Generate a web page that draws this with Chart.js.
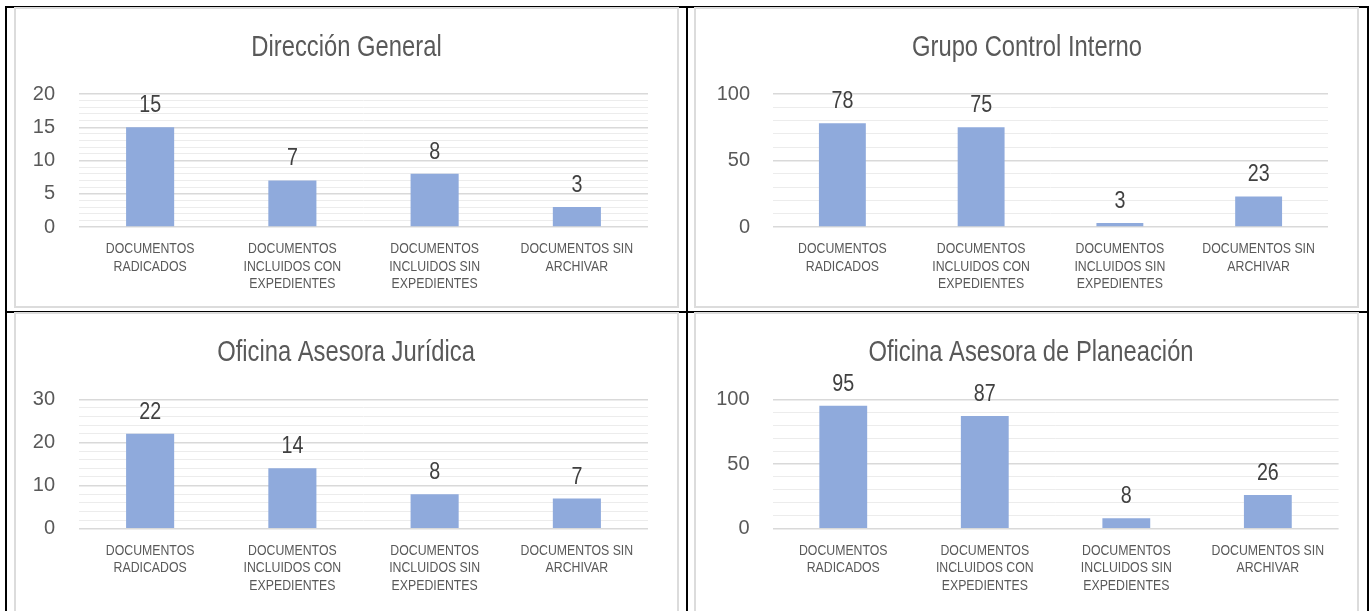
<!DOCTYPE html>
<html>
<head>
<meta charset="utf-8">
<script src="https://cdn.jsdelivr.net/npm/chart.js@4"></script>
<style>
  body { margin: 0; background: #fff; width: 1371px; height: 611px; overflow: hidden; position: relative; }
  .line { position: absolute; background: #000; }
  .box { position: absolute; border: 2px solid #dcdcdc; box-sizing: border-box; width: 665px; height: 301px; }
  .box canvas { display: block; }
</style>
</head>
<body>
<div class="line" style="left:5px;top:6px;width:1364px;height:2px"></div>
<div class="line" style="left:5px;top:6px;width:2px;height:605px"></div>
<div class="line" style="left:1367px;top:6px;width:2px;height:605px"></div>
<div class="line" style="left:686px;top:6px;width:2px;height:605px"></div>
<div class="line" style="left:5px;top:311px;width:1364px;height:2px"></div>

<div class="box" style="left:14px;top:7px"><canvas id="c1" width="661" height="297"></canvas></div>
<div class="box" style="left:694px;top:7px"><canvas id="c2" width="661" height="297"></canvas></div>
<div class="box" style="left:14px;top:312px"><canvas id="c3" width="661" height="297"></canvas></div>
<div class="box" style="left:694px;top:312px"><canvas id="c4" width="661" height="297"></canvas></div>

<script>
// datos
const categories = [
    ['DOCUMENTOS', 'RADICADOS'],
    ['DOCUMENTOS', 'INCLUIDOS CON', 'EXPEDIENTES'],
    ['DOCUMENTOS', 'INCLUIDOS SIN', 'EXPEDIENTES'],
    ['DOCUMENTOS SIN', 'ARCHIVAR']
];
const titles = ['Dirección General', 'Grupo Control Interno', 'Oficina Asesora Jurídica', 'Oficina Asesora de Planeación'];
const direccionGeneral = [15, 7, 8, 3];
const controlInterno = [78, 75, 3, 23];
const asesoraJuridica = [22, 14, 8, 7];
const asesoraPlaneacion = [95, 87, 8, 26];
const yMax = [20, 100, 30, 100];
const yMajor = [5, 50, 10, 50];
const yMinor = [1, 10, 2, 10];

const font = "'Liberation Sans', Arial, sans-serif";
const NARROW = 0.82; // el original usa una fuente estrecha (tipo Arial Narrow)

function narrowText(ctx, text, x, y) {
    ctx.save();
    ctx.translate(x, y);
    ctx.scale(NARROW, 1);
    ctx.fillText(text, 0, 0);
    ctx.restore();
}

// título, etiquetas de categoría y valores, dibujados con letra estrecha
const narrowLabels = {
    id: 'narrowLabels',
    afterDatasetsDraw(chart, args, opts) {
        const ctx = chart.ctx;
        const area = chart.chartArea;
        const xScale = chart.scales.x;
        const meta = chart.getDatasetMeta(0);
        const values = chart.data.datasets[0].data;
        ctx.save();
        ctx.textAlign = 'center';

        ctx.fillStyle = '#404040';
        ctx.textBaseline = 'alphabetic';
        ctx.font = '24px ' + font;
        meta.data.forEach((bar, i) => narrowText(ctx, String(values[i]), bar.x, bar.y - 15));

        ctx.fillStyle = '#595959';
        ctx.textBaseline = 'middle';
        ctx.font = '29px ' + font;
        narrowText(ctx, opts.title, opts.titleX, 38.5);

        ctx.font = '15px ' + font;
        chart.data.labels.forEach((lines, i) => {
            const x = xScale.getPixelForTick(i);
            lines.forEach((t, j) => narrowText(ctx, t, x, area.bottom + 22 + j * 17.5));
        });
        ctx.restore();
    }
};

// layout: [padRight, padTop, yAxisWidth, tickPad, xAxisHeight, titleX]
const layouts = [
    [29, 85, 63, 24, 79, 330.5],
    [29, 85, 77, 23, 79, 331],
    [29, 85.3, 63, 24, 82.3, 330],
    [18.4, 85.3, 76.5, 23, 82.3, 335]
];

function makeChart(id, idx, values) {
    const [pr, pt, yw, tp, xh, tx] = layouts[idx];
    const major = yMajor[idx];
    new Chart(document.getElementById(id), {
        type: 'bar',
        data: {
            labels: categories,
            datasets: [{
                data: values,
                backgroundColor: '#8faadc',
                barPercentage: 0.338,
                categoryPercentage: 1
            }]
        },
        options: {
            responsive: false,
            animation: false,
            layout: { padding: { left: 0, right: pr, top: pt, bottom: 0 } },
            plugins: {
                legend: { display: false },
                tooltip: { enabled: false },
                title: { display: false },
                narrowLabels: { title: titles[idx], titleX: tx }
            },
            scales: {
                x: {
                    grid: { display: false },
                    border: { display: false },
                    ticks: { display: false },
                    afterFit: (scale) => { scale.height = xh; }
                },
                y: {
                    min: 0,
                    max: yMax[idx],
                    border: { display: false },
                    grid: {
                        drawTicks: false,
                        color: (c) => (c.tick && c.tick.value % major === 0) ? '#d9d9d9' : '#ececec',
                        lineWidth: (c) => (c.tick && c.tick.value % major === 0) ? 1.5 : 1
                    },
                    ticks: {
                        stepSize: yMinor[idx],
                        autoSkip: false,
                        color: '#595959',
                        font: { family: font, size: 20 },
                        padding: tp,
                        callback: (v) => (v % major === 0 ? v : '')
                    },
                    afterFit: (scale) => { scale.width = yw; }
                }
            }
        },
        plugins: [narrowLabels]
    });
}

makeChart('c1', 0, direccionGeneral);
makeChart('c2', 1, controlInterno);
makeChart('c3', 2, asesoraJuridica);
makeChart('c4', 3, asesoraPlaneacion);
</script>
</body>
</html>
